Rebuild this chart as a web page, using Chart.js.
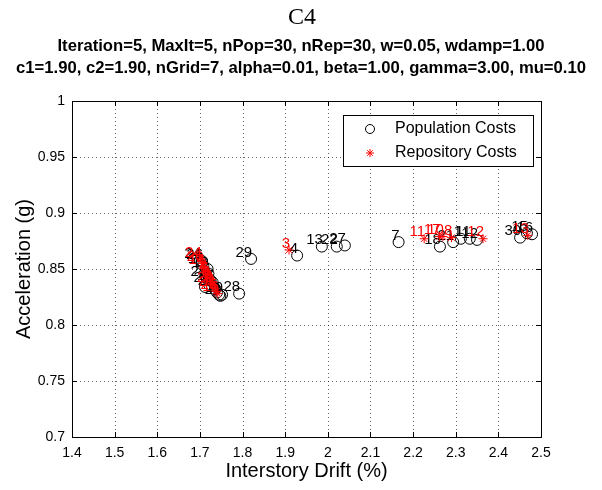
<!DOCTYPE html>
<html>
<head>
<meta charset="utf-8">
<script src="https://cdn.jsdelivr.net/npm/chart.js@4/dist/chart.umd.min.js"></script>
<style>
  body { margin: 0; background: #fff; }
  canvas { display: block; }
</style>
</head>
<body>
<canvas id="costChart" width="602" height="490"></canvas>
<script>
// Population members: index, drift (%), acceleration (g)
const popIds = [1, 2, 3, 4, 5, 6, 7, 8, 9, 10, 11, 12, 13, 14, 15, 16, 17, 18, 19, 20, 21, 22, 23, 24, 25, 26, 27, 28, 29, 30];
const popDrift = [2.312, 1.712, 1.720, 1.928, 1.735, 1.725, 2.166, 1.740, 1.745, 1.718, 2.333, 2.350, 1.986, 1.708, 2.467,
  2.479, 1.730, 2.263, 1.752, 1.722, 2.294, 2.021, 1.748, 1.700, 1.715, 1.705, 2.040, 1.792, 1.820, 2.451];
const popAccel = [0.877, 0.834, 0.846, 0.862, 0.832, 0.840, 0.874, 0.829, 0.827, 0.850, 0.877, 0.876, 0.870, 0.853, 0.882,
  0.881, 0.838, 0.870, 0.827, 0.836, 0.874, 0.870, 0.826, 0.858, 0.842, 0.857, 0.871, 0.828, 0.859, 0.878];

// Repository (non-dominated) members
const repIds = [3, 11, 17, 10, 8, 12, 13, 24, 26, 14, 2, 5, 6, 9, 20, 23, 25, 16];
const repDrift = [1.909, 2.226, 2.262, 2.270, 2.290, 2.364, 2.469, 1.702, 1.706, 1.710, 1.714, 1.718, 1.722, 1.726, 1.730,
  1.734, 1.738, 1.742];
const repAccel = [0.867, 0.877, 0.879, 0.879, 0.878, 0.877, 0.880, 0.859, 0.855, 0.852, 0.848, 0.845, 0.842, 0.839, 0.836,
  0.833, 0.830, 0.828];

const xTicks = [1.4, 1.5, 1.6, 1.7, 1.8, 1.9, 2.0, 2.1, 2.2, 2.3, 2.4, 2.5];
const yTicks = [0.7, 0.75, 0.8, 0.85, 0.9, 0.95, 1.0];

const titleText = 'C4';
const subtitleLines = [
  'Iteration=5, MaxIt=5, nPop=30, nRep=30, w=0.05, wdamp=1.00',
  'c1=1.90, c2=1.90, nGrid=7, alpha=0.01, beta=1.00, gamma=3.00, mu=0.10',
];

const SANS = '"Liberation Sans", Arial, sans-serif';

const toPoints = (xs, ys, ids) => xs.map((x, i) => ({ x, y: ys[i], id: ids[i] }));

// dotted grid, box and inward ticks like a matlab axes
const axesBox = {
  id: 'axesBox',
  beforeDatasetsDraw: (chart) => {
    const { ctx, chartArea: a, scales } = chart;
    ctx.save();
    ctx.strokeStyle = 'rgba(0,0,0,0.6)';
    ctx.lineWidth = 1;
    ctx.setLineDash([1, 3]);
    xTicks.forEach((v) => {
      const x = Math.round(scales.x.getPixelForValue(v)) + 0.5;
      ctx.beginPath();
      ctx.moveTo(x, a.top);
      ctx.lineTo(x, a.bottom);
      ctx.stroke();
    });
    yTicks.forEach((v) => {
      const y = Math.round(scales.y.getPixelForValue(v)) + 0.5;
      ctx.beginPath();
      ctx.moveTo(a.left, y);
      ctx.lineTo(a.right, y);
      ctx.stroke();
    });
    ctx.restore();
  },
  afterDraw: (chart) => {
    const { ctx, chartArea: a, scales } = chart;
    ctx.save();
    ctx.strokeStyle = '#000';
    ctx.lineWidth = 1;
    ctx.strokeRect(Math.round(a.left) + 0.5, Math.round(a.top) + 0.5, Math.round(a.right - a.left), Math.round(a.bottom - a.top));
    ctx.beginPath();
    xTicks.forEach((v) => {
      const x = Math.round(scales.x.getPixelForValue(v)) + 0.5;
      ctx.moveTo(x, a.bottom);
      ctx.lineTo(x, a.bottom - 5);
      ctx.moveTo(x, a.top);
      ctx.lineTo(x, a.top + 5);
    });
    yTicks.forEach((v) => {
      const y = Math.round(scales.y.getPixelForValue(v)) + 0.5;
      ctx.moveTo(a.left, y);
      ctx.lineTo(a.left + 5, y);
      ctx.moveTo(a.right, y);
      ctx.lineTo(a.right - 5, y);
    });
    ctx.stroke();

    // titles
    ctx.fillStyle = '#000';
    ctx.textAlign = 'center';
    ctx.textBaseline = 'middle';
    ctx.font = '24px "Liberation Serif", "Times New Roman", serif';
    ctx.fillText(titleText, 302, 18);
    ctx.font = 'bold 17px ' + SANS;
    subtitleLines.forEach((line, i) => {
      ctx.save();
      ctx.translate(301, 46 + i * 22);
      ctx.scale(0.98, 1);
      ctx.fillText(line, 0, 0);
      ctx.restore();
    });

    // axis titles
    ctx.font = '20px ' + SANS;
    ctx.fillText('Interstory Drift (%)', (a.left + a.right) / 2, 471);
    ctx.save();
    ctx.translate(24, (a.top + a.bottom) / 2);
    ctx.rotate(-Math.PI / 2);
    ctx.fillText('Acceleration (g)', 0, 0);
    ctx.restore();

    // legend box
    const bx = a.right - 198, by = a.top + 14, bw = 190, bh = 51;
    ctx.fillStyle = '#fff';
    ctx.fillRect(bx, by, bw, bh);
    ctx.strokeStyle = '#000';
    ctx.strokeRect(bx + 0.5, by + 0.5, bw, bh);
    ctx.beginPath();
    ctx.arc(bx + 27, by + 14, 4.5, 0, Math.PI * 2);
    ctx.stroke();
    ctx.strokeStyle = '#ff0000';
    ctx.beginPath();
    const sx = bx + 27, sy = by + 38, r = 4;
    ctx.moveTo(sx - r, sy); ctx.lineTo(sx + r, sy);
    ctx.moveTo(sx, sy - r); ctx.lineTo(sx, sy + r);
    ctx.moveTo(sx - r * 0.7, sy - r * 0.7); ctx.lineTo(sx + r * 0.7, sy + r * 0.7);
    ctx.moveTo(sx - r * 0.7, sy + r * 0.7); ctx.lineTo(sx + r * 0.7, sy - r * 0.7);
    ctx.stroke();
    ctx.fillStyle = '#000';
    ctx.textAlign = 'left';
    ctx.font = '16px ' + SANS;
    ctx.fillText(chart.data.datasets[0].label, bx + 52, by + 14);
    ctx.fillText(chart.data.datasets[1].label, bx + 52, by + 38);
    ctx.restore();
  },
};

// index number next to each point, drawn right after its own dataset
const pointLabels = {
  id: 'pointLabels',
  afterDatasetDraw: (chart, args) => {
    const ds = chart.data.datasets[args.index];
    const { ctx } = chart;
    ctx.save();
    ctx.font = '15px ' + SANS;
    ctx.fillStyle = ds.labelColor;
    ctx.textAlign = 'right';
    ctx.textBaseline = 'bottom';
    args.meta.data.forEach((el, i) => {
      ctx.fillText(String(ds.data[i].id), el.x + 1, el.y + 1);
    });
    ctx.restore();
  },
};

const ctx = document.getElementById('costChart').getContext('2d');
new Chart(ctx, {
  type: 'scatter',
  data: {
    datasets: [
      {
        label: 'Population Costs',
        data: toPoints(popDrift, popAccel, popIds),
        pointStyle: 'circle',
        pointRadius: 5.5,
        borderColor: '#000',
        backgroundColor: 'rgba(0,0,0,0)',
        borderWidth: 1,
        labelColor: '#000',
        order: 2,
      },
      {
        label: 'Repository Costs',
        data: toPoints(repDrift, repAccel, repIds),
        pointStyle: 'star',
        pointRadius: 4.5,
        borderColor: '#ff0000',
        backgroundColor: '#ff0000',
        borderWidth: 1,
        labelColor: '#ff0000',
        order: 1,
      },
    ],
  },
  options: {
    responsive: false,
    animation: false,
    layout: { padding: { top: 101, right: 61, left: 0, bottom: 0 } },
    scales: {
      x: {
        type: 'linear',
        min: 1.4,
        max: 2.5,
        afterFit: (scale) => { scale.height = 53; },
        afterBuildTicks: (scale) => { scale.ticks = xTicks.map((value) => ({ value })); },
        grid: { display: false, drawTicks: false },
        border: { display: false },
        ticks: {
          autoSkip: false,
          maxRotation: 0,
          padding: 8,
          color: '#000',
          font: { family: SANS, size: 14 },
          callback: (value) => String(+value.toFixed(2)),
        },
      },
      y: {
        type: 'linear',
        min: 0.7,
        max: 1,
        afterFit: (scale) => { scale.width = 72; },
        afterBuildTicks: (scale) => { scale.ticks = yTicks.map((value) => ({ value })); },
        grid: { display: false, drawTicks: false },
        border: { display: false },
        ticks: {
          autoSkip: false,
          padding: 7,
          color: '#000',
          font: { family: SANS, size: 14 },
          callback: (value) => String(+value.toFixed(2)),
        },
      },
    },
    plugins: {
      legend: { display: false },
      tooltip: { enabled: false },
    },
  },
  plugins: [axesBox, pointLabels],
});
</script>
</body>
</html>
